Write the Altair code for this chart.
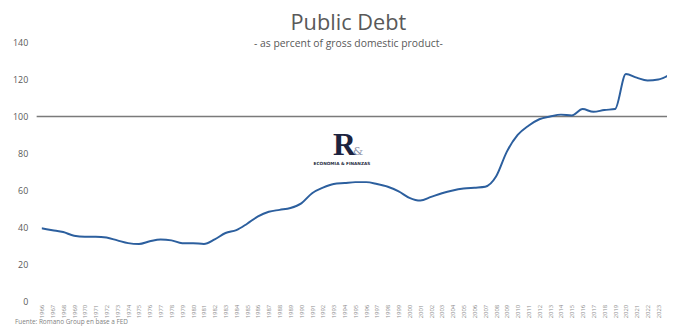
import altair as alt
import pandas as pd

years = list(range(1966, 2025))
debt = [39.5, 38.5, 37.5, 35.5, 35, 35, 34.5, 33, 31.5, 31,
        32.5, 33.5, 33, 31.5, 31.5, 31, 33.5, 37, 38.5, 42,
        46, 48.5, 49.5, 50.5, 53, 58.5, 61.5, 63.5, 64, 64.5,
        64.5, 63.5, 62, 59.5, 56, 54.5, 56.5, 58.5, 60, 61,
        61.5, 62, 67.5, 81, 90, 95, 98.5, 100, 101, 100.5,
        104, 102.5, 103.5, 104, 123, 121, 119.5, 120, 122.5]
tick_years = list(range(1966, 2024))
y_ticks = [0, 20, 40, 60, 80, 100, 120, 140]
ref_value = [100]

df = pd.DataFrame({"year": years, "debt": debt})
ref = pd.DataFrame({"v": ref_value})

FONT = "Open Sans"
GRAY = "#595959"

y_scale = alt.Scale(domain=[0, 140], nice=False)
y_axis = alt.Axis(values=y_ticks, labelFontSize=9, labelColor=GRAY,
                  labelFont=FONT, labelPadding=14, ticks=False,
                  labelOverlap=False, labelFlush=False, labelBound=False,
                  domain=False, grid=False, title=None)

x = alt.X("year:Q",
          scale=alt.Scale(domain=[1966, 2023.8], nice=False, zero=False),
          axis=alt.Axis(values=tick_years, format="d", labelAngle=-90,
                        labelFontSize=6, labelColor="#8c8c8c", labelFont=FONT,
                        labelPadding=3, ticks=False, domain=False, grid=False,
                        title=None, labelOverlap=False, labelBound=False,
                        labelFlush=False))

rule = alt.Chart(ref).mark_rule(color="#7a7a7a", strokeWidth=1.5).encode(
    y=alt.Y("v:Q", scale=y_scale, axis=y_axis),
    x=alt.value(-5), x2=alt.value(633))

line = alt.Chart(df).mark_line(color="#2c5f9e", strokeWidth=2,
                               interpolate="monotone", clip=True).encode(
    x=x, y=alt.Y("debt:Q", scale=y_scale, axis=y_axis))

logo_r = alt.Chart(ref).mark_text(text="R", font="Liberation Sans Narrow",
                                  fontWeight="bold", fontSize=32, color="#1c2340",
                                  align="left", baseline="alphabetic").encode(
    x=alt.value(295), y=alt.value(114))
logo_amp = alt.Chart(ref).mark_text(text="&", font="DejaVu Serif", fontSize=12,
                                    color="#8a90a8", align="left",
                                    baseline="alphabetic").encode(
    x=alt.value(315), y=alt.value(114))
logo_txt = alt.Chart(ref).mark_text(text="ECONOMIA & FINANZAS", font="DejaVu Sans",
                                    fontWeight="bold", fontSize=4.3,
                                    color="#2a2f45", align="center",
                                    baseline="middle").encode(
    x=alt.value(304), y=alt.value(123))
source = alt.Chart(ref).mark_text(text="Fuente: Romano Group en base a FED",
                                  font=FONT, fontSize=6.5, color="#7f7f7f",
                                  align="left", baseline="top").encode(
    x=alt.value(-27), y=alt.value(280))

chart = alt.layer(rule, line, logo_r, logo_amp, logo_txt, source).properties(
    width=633, height=262,
    autosize=alt.AutoSizeParams(type="none"),
    padding={"left": 34, "top": 33, "right": 0, "bottom": 25},
    title=alt.TitleParams(text="Public Debt",
                          subtitle="- as percent of gross domestic product-",
                          anchor="middle", dx=-6, offset=-12,
                          font=FONT, fontSize=22, fontWeight="normal", color=GRAY,
                          subtitleFont=FONT, subtitleFontSize=10.5,
                          subtitleColor=GRAY, subtitlePadding=4)
).configure_view(stroke=None)

chart.save("out.html", embed_options={"renderer": "svg", "actions": False})
